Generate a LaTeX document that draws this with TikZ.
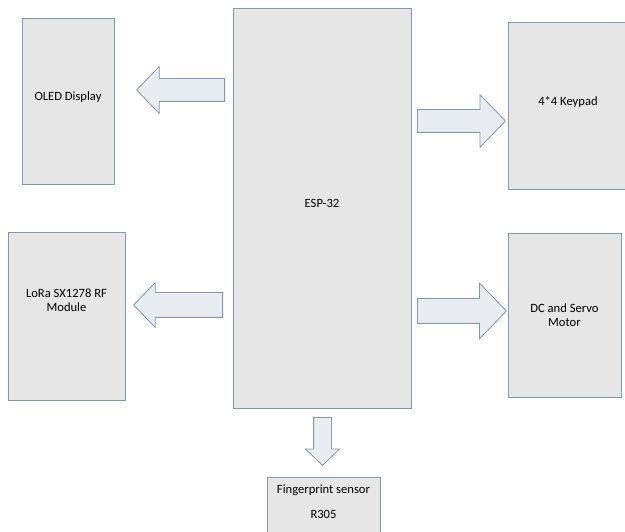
\documentclass[tikz,border=0pt]{standalone}
\usepackage{fontspec}
\setmainfont{Carlito}
\usetikzlibrary{shapes.arrows,calc}

\definecolor{boxfill}{HTML}{E6E6E6}
\definecolor{boxline}{HTML}{8397AF}
\definecolor{arrowfill}{HTML}{E9ECF0}

\tikzset{
  unit/.style={rectangle, draw=boxline, fill=boxfill, line width=0.8pt, align=center, inner sep=2pt, font=\fontsize{12.6}{14.5}\selectfont},
  lift/.style={text depth=#1},
  blockarrow/.style={single arrow, draw=boxline, fill=arrowfill, line width=0.8pt, inner xsep=0pt, inner ysep=11pt, single arrow tip angle=92, single arrow head extend=12pt}
}

% fat arrow from coordinate #2 to coordinate #3
\newcommand{\pointer}[3][]{%
  \path let \p1=($(#3)-(#2)$), \n1={veclen(\x1,\y1)}, \n2={atan2(\y1,\x1)} in
    node[blockarrow, #1, minimum height=\n1, rotate=\n2, anchor=tail] at (#2) {};}

\begin{document}
\begin{tikzpicture}[x=1pt,y=-1pt]
	\fill[white] (0,0) rectangle (625,532);
	\useasboundingbox (0,0) rectangle (625,532);
	\clip (0,0) rectangle (625,532);

	\node[unit, lift=10pt, minimum width=178pt, minimum height=400pt] (esp) at (322,208) {ESP-32};
	\node[unit, lift=9pt, minimum width=92pt, minimum height=166pt] (oled) at (68,101) {OLED Display};
	\node[unit, lift=32pt, minimum width=117pt, minimum height=168pt] (lora) at (66.5,316) {LoRa SX1278 RF\\Module};
	\node[unit, lift=9pt, minimum width=120pt, minimum height=167pt] (keypad) at (568,105.5) {4*4 Keypad};
	\node[unit, minimum width=113pt, minimum height=164pt] (motor) at (564.5,315) {DC and Servo\\Motor};
	\node[unit, lift=11pt, minimum width=113pt, minimum height=60pt] (finger) at (323.5,507) {Fingerprint sensor\\[11pt]R305};

	% arrow ends
	\coordinate (oledA) at (225,90);
	\coordinate (oledB) at (137,90);
	\coordinate (loraA) at (223,305);
	\coordinate (loraB) at (134,305);
	\coordinate (keypadA) at (417,121);
	\coordinate (keypadB) at (505,121);
	\coordinate (motorA) at (417,311);
	\coordinate (motorB) at (506,311);
	\coordinate (fingerA) at (322.5,417);
	\coordinate (fingerB) at (322.5,465);

	\pointer[name=toOled]{oledA}{oledB}
	\pointer[name=toLora, inner ysep=12pt, single arrow head extend=10pt]{loraA}{loraB}
	\pointer[name=toKeypad, single arrow head extend=15pt]{keypadA}{keypadB}
	\pointer[name=toMotor, inner ysep=12pt, single arrow head extend=15.5pt]{motorA}{motorB}
	\pointer[name=toFinger, inner ysep=8.5pt, single arrow head extend=8pt]{fingerA}{fingerB}
\end{tikzpicture}
\end{document}
